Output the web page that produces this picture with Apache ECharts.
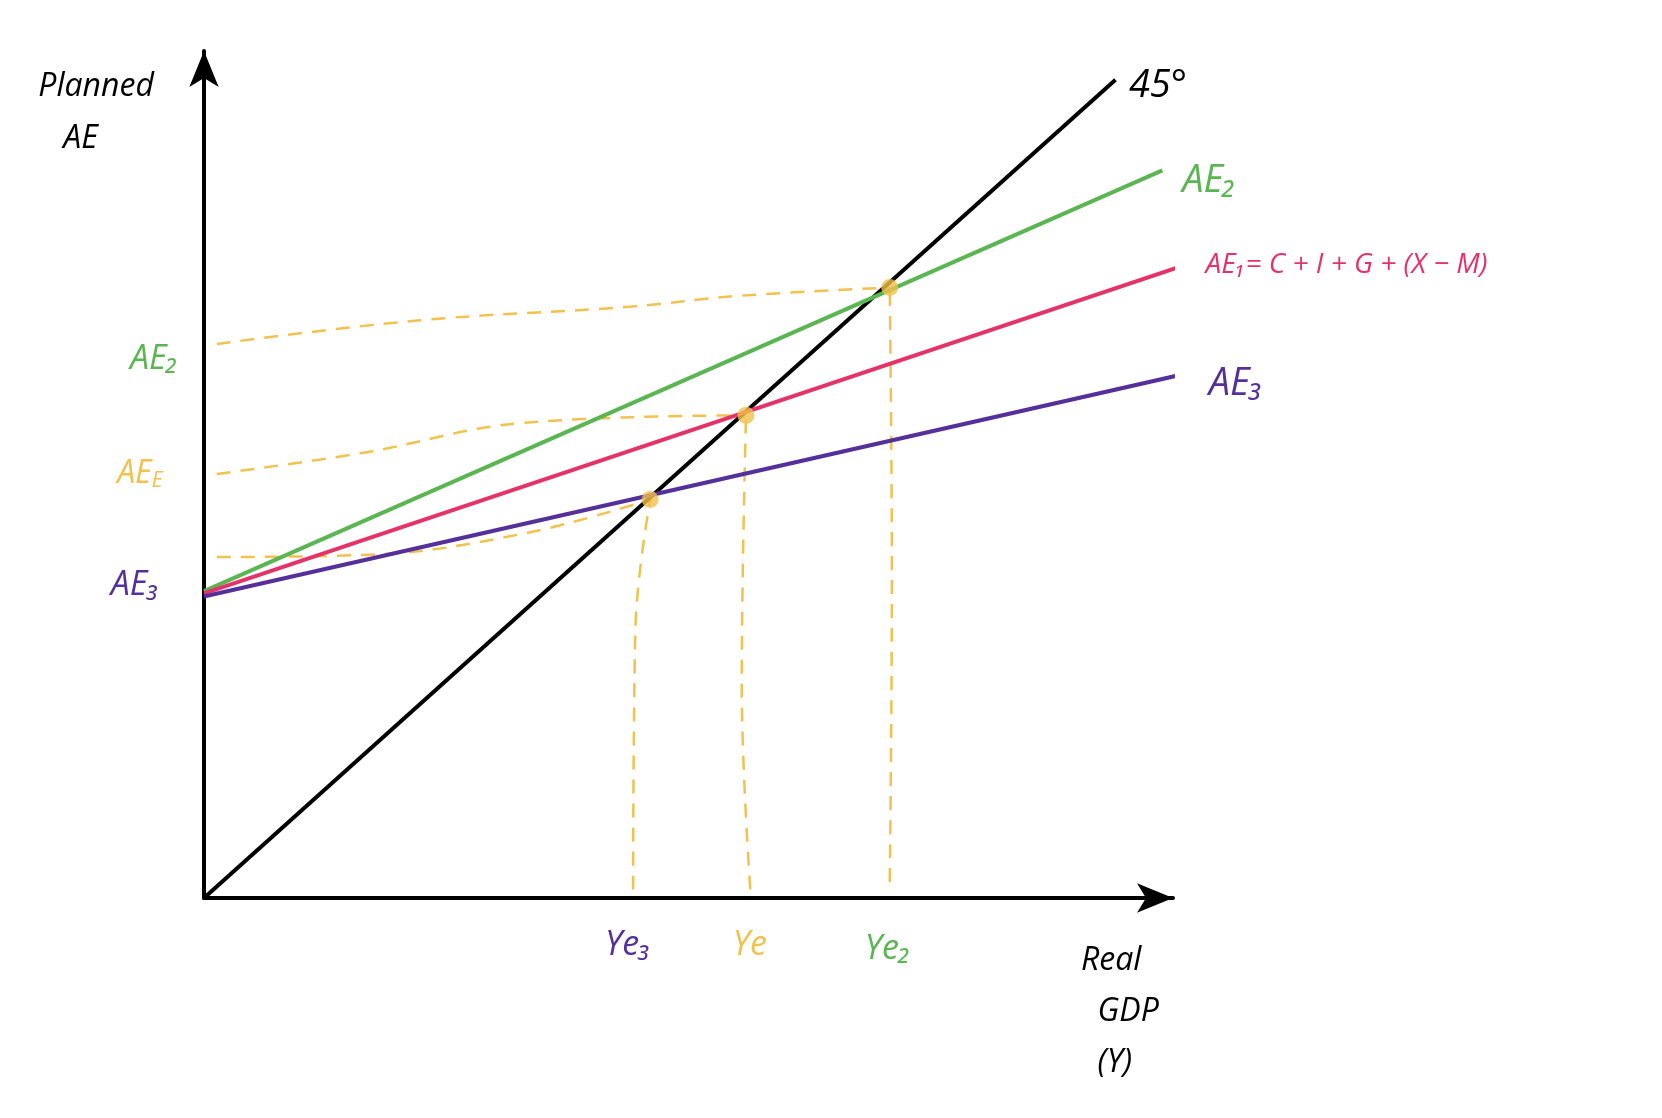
<!DOCTYPE html>
<html><head><meta charset="utf-8">
<script src="https://cdn.jsdelivr.net/npm/echarts@6/dist/echarts.min.js"></script>
<style>html,body{margin:0;background:#fff}#c{width:1662px;height:1118px}</style>
</head><body><div id="c"></div>
<script>
// data units: x = Real GDP, y = Planned AE
const line45 = [[0,0],[856,768]];
const ae2 = [[0,288],[900,683]];
const ae1 = [[0,286],[924,595]];
const ae3 = [[0,283],[926,493]];
const equilibria = [[419,374],[509,453],[644,573]];
const dashAE3 = [[12,320],[150,322],[300,342],[419,374]];
const dashAEE = [[12,398],[150,418],[300,446],[509,453]];
const dashAE2 = [[12,520],[200,542],[400,555],[500,565],[644,573]];
const vYe3 = [[403,8],[405,250],[419,374]];
const vYe = [[513,8],[505,200],[509,453]];
const vYe2 = [[644,15],[646,300],[644,573]];

const Y='#F2C14E',G='#5BB552',R='#E5336A',P='#55309A',K='#000';
const F='"Comic Sans MS","Open Sans",sans-serif';
const k=1.065;
function txt(x,y,t,c,s){return {type:'text',left:x*k,top:y*k,style:{text:t,fill:c,font:'italic '+(s||30)+'px '+F,lineHeight:(s||30)*1.6}};}
const ln=(d,c,w)=>({type:'line',data:d,symbol:'none',lineStyle:{color:c,width:w||4},silent:true,z:3});
const dl=(d,c)=>({type:'line',data:d,symbol:'none',smooth:0.4,lineStyle:{color:Y,width:2.5,type:[14,10]},z:2});
const ch=echarts.init(document.getElementById('c'));
ch.setOption({
 animation:false,
 grid:{left:204,top:51,width:969,bottom:220},
 xAxis:{type:'value',min:0,max:910,axisLine:{lineStyle:{color:K,width:4},symbol:['none','arrow'],symbolSize:[22,36]},splitLine:{show:false},axisTick:{show:false},axisLabel:{show:false}},
 yAxis:{type:'value',min:0,max:795,axisLine:{show:true,lineStyle:{color:K,width:4},symbol:['none','arrow'],symbolSize:[22,36]},splitLine:{show:false},axisTick:{show:false},axisLabel:{show:false}},
 series:[dl(dashAE3),dl(dashAEE),dl(dashAE2),dl(vYe3),dl(vYe),dl(vYe2),
  ln(line45,K),ln(ae2,G),ln(ae1,R),ln(ae3,P),
  {type:'scatter',data:equilibria,symbolSize:17,itemStyle:{color:Y},z:5}],
 graphic:[
  txt(36,58,'Planned\n   AE',K,32),
  txt(1060,52,'45°',K,38),
  txt(1110,142,'AE₂',G,38),
  txt(1132,228,'AE₁= C + I + G + (X − M)',R,28),
  txt(1135,332,'AE₃',P,38),
  txt(122,312,'AE₂',G,34),
  {type:'text',left:110*k,top:430*k,style:{text:'{a|AE}{b|E}',fill:Y,rich:{a:{fontSize:32,fontStyle:'italic',fontFamily:F,color:Y},b:{fontSize:22,fontStyle:'italic',fontFamily:F,color:Y,verticalAlign:'bottom',padding:[14,0,0,0]}}}},
  txt(104,524,'AE₃',P,34),
  txt(568,862,'Ye₃',P,34),
  txt(688,862,'Ye',Y,34),
  txt(812,866,'Ye₂',G,34),
  txt(1015,878,'Real\n  GDP\n  (Y)',K,32)
 ]
});
</script></body></html>
